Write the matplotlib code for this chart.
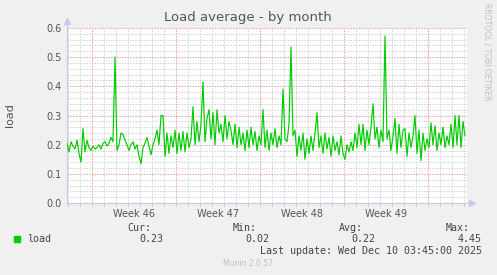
import numpy as np
import matplotlib
matplotlib.use('Agg')
import matplotlib.pyplot as plt

# load average samples, one every 4 hours, starting Fri Nov 7 22:00
load = [0.205, 0.175, 0.21, 0.195, 0.185, 0.215, 0.17, 0.14, 0.255, 0.175,
        0.215, 0.19, 0.18, 0.195, 0.185, 0.19, 0.2, 0.185, 0.205, 0.21,
        0.195, 0.205, 0.225, 0.21, 0.5, 0.18, 0.2, 0.24, 0.235, 0.215,
        0.2, 0.18, 0.2, 0.21, 0.185, 0.2, 0.16, 0.135, 0.19, 0.205,
        0.225, 0.195, 0.165, 0.2, 0.22, 0.25, 0.2, 0.3, 0.3, 0.16,
        0.24, 0.17, 0.23, 0.19, 0.25, 0.17, 0.24, 0.18, 0.245, 0.175,
        0.24, 0.19, 0.22, 0.33, 0.2, 0.28, 0.21, 0.27, 0.415, 0.21,
        0.29, 0.32, 0.22, 0.31, 0.2, 0.32, 0.24, 0.27, 0.21, 0.3,
        0.22, 0.28, 0.25, 0.2, 0.27, 0.19, 0.26, 0.2, 0.24, 0.18,
        0.25, 0.19, 0.26, 0.2, 0.245, 0.18, 0.23, 0.2, 0.32, 0.19,
        0.25, 0.18, 0.24, 0.2, 0.255, 0.19, 0.23, 0.2, 0.39, 0.22,
        0.21, 0.27, 0.535, 0.23, 0.25, 0.16, 0.23, 0.18, 0.24, 0.15,
        0.22, 0.17, 0.23, 0.18, 0.24, 0.31, 0.19, 0.23, 0.17, 0.24,
        0.185, 0.225, 0.16, 0.23, 0.18, 0.21, 0.165, 0.23, 0.17, 0.15,
        0.2, 0.175, 0.21, 0.18, 0.24, 0.19, 0.27, 0.2, 0.27, 0.18,
        0.25, 0.2, 0.26, 0.34, 0.22, 0.26, 0.19, 0.25, 0.21, 0.573,
        0.22, 0.25, 0.18, 0.23, 0.29, 0.17, 0.27, 0.19, 0.25, 0.255,
        0.16, 0.24, 0.19, 0.23, 0.3, 0.17, 0.25, 0.145, 0.24, 0.18,
        0.22, 0.19, 0.275, 0.2, 0.265, 0.18, 0.24, 0.2, 0.26, 0.19,
        0.23, 0.2, 0.27, 0.19, 0.3, 0.2, 0.3, 0.19, 0.28, 0.23]

week_labels = ['Week 46', 'Week 47', 'Week 48', 'Week 49']
week_starts = [0, 7, 14, 21, 28]   # days from Mon Nov 10 00:00
y_ticks = [0.0, 0.1, 0.2, 0.3, 0.4, 0.5, 0.6]

stats_names = ['Cur:', 'Min:', 'Avg:', 'Max:']
stats_values = ['0.23', '0.02', '0.22', '4.45']

# time in days relative to Nov 10 00:00
t = (np.arange(len(load)) * 4 - 50) / 24.0

W, H = 497, 275
fig = plt.figure(figsize=(W / 100, H / 100), dpi=100, facecolor='#F0F0F0')
ax = fig.add_axes([67 / W, 1 - 203 / H, (467 - 67) / W, 175 / H])
ax.set_facecolor('white')

xmin, xmax = -25 / 12, (467 - 92) / 12
ax.set_xlim(xmin, xmax)
ax.set_ylim(0, 0.6)

dots = (0, (1.4, 1.4))
# minor grid
for d in range(-2, 32):
    if d not in week_starts:
        ax.axvline(d, color='#D0D0D0', lw=0.7, linestyle=dots, zorder=1)
for v in np.arange(0.02, 0.6, 0.02):
    if abs(v * 10 - round(v * 10)) > 1e-6:
        ax.axhline(v, color='#D0D0D0', lw=0.7, linestyle=dots, zorder=1)
# major grid
for d in week_starts:
    ax.axvline(d, color='#EE9999', lw=0.7, linestyle=dots, zorder=2)
for v in y_ticks[1:]:
    ax.axhline(v, color='#EE9999', lw=0.7, linestyle=dots, zorder=2)

ax.plot(t, load, color='#00CC00', lw=0.85, zorder=3)

for s in ['top', 'right']:
    ax.spines[s].set_visible(False)
for s in ['left', 'bottom']:
    ax.spines[s].set_color('#C8C8F0')
    ax.spines[s].set_linewidth(0.8)
ax.spines['left'].set_bounds(0, 0.625)
ax.spines['bottom'].set_bounds(xmin, xmax + 0.3)
ax.plot([0], [1.04], marker='^', ms=4, color='#C8C8F0', transform=ax.transAxes, clip_on=False)
ax.plot([1.012], [0], marker='>', ms=4, color='#C8C8F0', transform=ax.transAxes, clip_on=False)

ax.set_yticks(y_ticks)
ax.set_yticklabels(['%.1f' % v for v in y_ticks])
ax.set_xticks([d + 3.5 for d in week_starts[:4]])
ax.set_xticklabels(week_labels)
ax.set_xticks(range(-2, 32), minor=True)
ax.tick_params(axis='both', which='major', length=0, labelsize=7, labelcolor='#555555', pad=4)
ax.tick_params(axis='x', which='minor', length=2, width=0.6, color='#C0C0C0')

fig.text(248 / W, 1 - 18 / H, 'Load average - by month', ha='center', va='center',
         fontsize=9.5, color='#555555')
fig.text(10 / W, 1 - 115 / H, 'load', rotation=90, ha='center', va='center',
         fontsize=8, color='#555555')
fig.text(487 / W, 1 - 52 / H, 'RRDTOOL / TOBI OETIKER', rotation=270, ha='center',
         va='center', fontsize=5.5, color='#C0C0C0')

# legend block
mono = 'DejaVu Sans Mono'
fig.patches.append(plt.Rectangle((14 / W, 1 - 242 / H), 6 / W, 6 / H, color='#00CC00',
                                 transform=fig.transFigure, figure=fig))
fig.text(27 / W, 1 - 239.5 / H, 'load', ha='left', va='center', family=mono,
         fontsize=7.2, color='#444444')
name_right = [151, 257, 363, 470]
val_right = [163, 269, 375, 482]
for i in range(4):
    fig.text(name_right[i] / W, 1 - 228 / H, stats_names[i], ha='right', va='center',
             family=mono, fontsize=7.2, color='#444444')
    fig.text(val_right[i] / W, 1 - 239.5 / H, stats_values[i], ha='right', va='center',
             family=mono, fontsize=7.2, color='#444444')
fig.text(482 / W, 1 - 251 / H, 'Last update: Wed Dec 10 03:45:00 2025', ha='right',
         va='center', family=mono, fontsize=7.2, color='#444444')
fig.text(248 / W, 1 - 264 / H, 'Munin 2.0.57', ha='center', va='center',
         fontsize=5.5, color='#C0C0C0')

fig.savefig('out.png', dpi=100, facecolor=fig.get_facecolor())
